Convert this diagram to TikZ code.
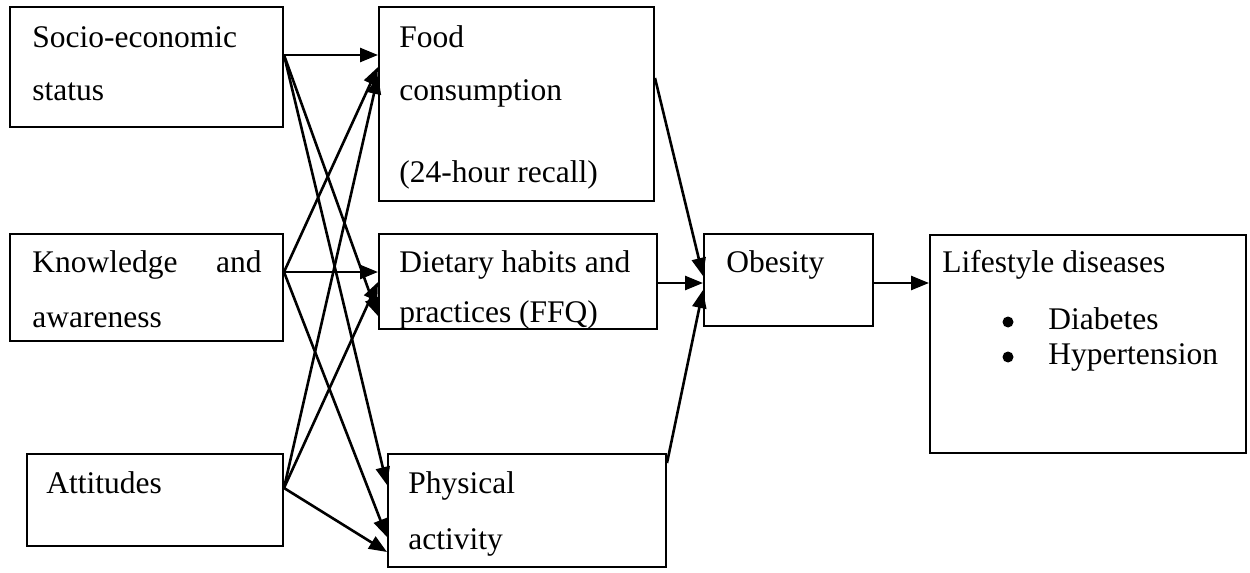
\documentclass[tikz,border=0pt]{standalone}
\usepackage{fontspec}
\setmainfont{Liberation Serif}
\usetikzlibrary{arrows.meta}
\begin{document}
\begin{tikzpicture}[x=0.5pt,y=-0.5pt,
  box/.style={draw,line width=1pt,inner sep=0pt},
  lbl/.style={anchor=base west,inner sep=0pt,font=\fontsize{15.75}{19}\selectfont},
  dot/.style={circle,fill,inner sep=0pt,minimum size=5.5pt},
  arr/.style={line width=1.3pt,-{Triangle[length=9pt,width=7pt]}}]
\useasboundingbox (0,0) rectangle (1250,573);
% boxes
\node[box,minimum width=136.5pt,minimum height=60pt] (socio) at (146.5,67) {};
\node[box,minimum width=137.5pt,minimum height=97pt] (food) at (516.5,104) {};
\node[box,minimum width=136.5pt,minimum height=53.5pt] (know) at (146.5,287.5) {};
\node[box,minimum width=139pt,minimum height=47.5pt] (diet) at (518,281.5) {};
\node[box,minimum width=128pt,minimum height=46pt] (att) at (155,500) {};
\node[box,minimum width=139pt,minimum height=56.5pt] (phys) at (527,510.5) {};
\node[box,minimum width=84.5pt,minimum height=46pt] (ob) at (788.5,280) {};
\node[box,minimum width=158pt,minimum height=109pt] (life) at (1088,344) {};
% texts
\node[lbl] (t1) at (32,47) {Socio-economic};
\node[lbl] (t2) at (32,100) {status};
\node[lbl] (t3) at (399,47) {Food};
\node[lbl] (t4) at (399,100) {consumption};
\node[lbl] (t5) at (399,182) {(24-hour recall)};
\node[lbl] (t6) at (32,272) {Knowledge};
\node[lbl,anchor=base east] (t7) at (262,272) {and};
\node[lbl] (t8) at (32,327) {awareness};
\node[lbl] (t9) at (399,272) {Dietary habits and};
\node[lbl] (t10) at (399,322) {practices (FFQ)};
\node[lbl] (t11) at (46,493) {Attitudes};
\node[lbl] (t12) at (408,493) {Physical};
\node[lbl] (t13) at (408,549) {activity};
\node[lbl] (t14) at (726,272) {Obesity};
\node[lbl] (t15) at (942,272) {Lifestyle diseases};
\node[dot] (b1) at (1008,322) {};
\node[lbl] (t16) at (1048,329) {Diabetes};
\node[dot] (b2) at (1008,357) {};
\node[lbl] (t17) at (1048,364) {Hypertension};
% connectors
\draw[arr] (socio.east |- 0,55) -- (food.west |- 0,55);
\draw[arr] (socio.east |- 0,55) -- (diet.west |- 0,316);
\draw[arr] (socio.east |- 0,55) -- (phys.west |- 0,485);
\draw[arr] (know.east |- 0,272) -- (food.west |- 0,67);
\draw[arr] (know.east |- 0,272) -- (diet.west |- 0,272);
\draw[arr] (know.east |- 0,272) -- (phys.west |- 0,537);
\draw[arr] (att.east |- 0,488) -- (food.west |- 0,76);
\draw[arr] (att.east |- 0,488) -- (diet.west |- 0,282);
\draw[arr] (att.east |- 0,488) -- (phys.west |- 0,552);
\draw[arr] (food.east |- 0,78) -- (ob.west |- 0,276);
\draw[arr] (diet.east |- 0,283) -- (ob.west |- 0,283);
\draw[arr] (phys.east |- 0,463) -- (ob.west |- 0,290);
\draw[arr] (ob.east |- 0,283) -- (life.west |- 0,283);
\end{tikzpicture}
\end{document}
